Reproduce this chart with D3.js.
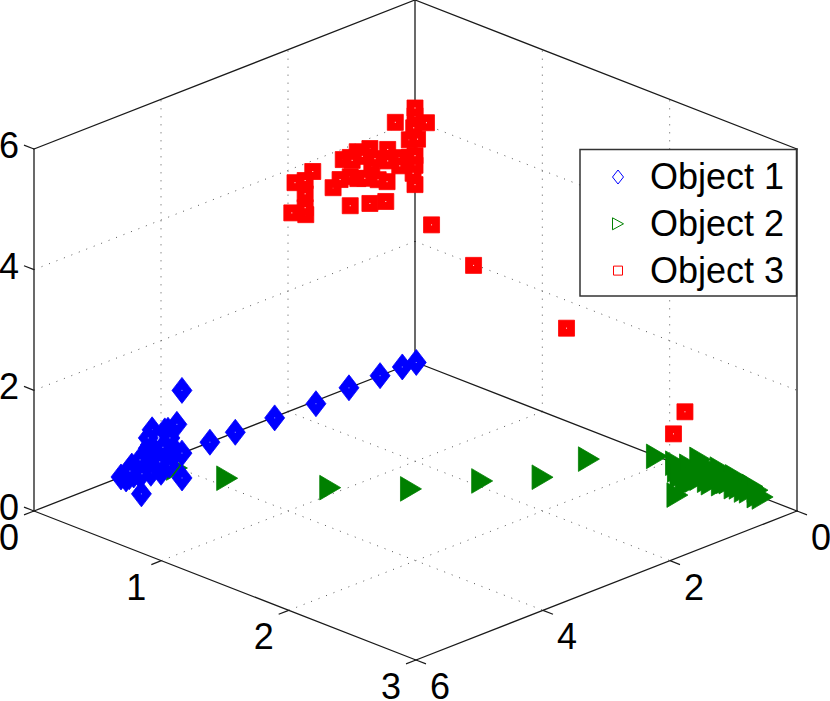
<!DOCTYPE html>
<html>
<head>
<meta charset="utf-8">
<title>Objects</title>
<script src="https://cdnjs.cloudflare.com/ajax/libs/d3/7.8.5/d3.min.js"></script>
<style>
  html, body { margin: 0; padding: 0; background: #fff; }
  svg { display: block; }
  text { font-family: "Liberation Sans", Arial, sans-serif; font-size: 36px; fill: #000; }
</style>
</head>
<body>
<div id="chart"></div>
<script>
// values
var xTicks = [0, 1, 2, 3];
var yTicks = [0, 2, 4, 6];
var zTicks = [0, 2, 4, 6];
var seriesNames = ["Object 1", "Object 2", "Object 3"];

var object1X = [0, 0.04, 0.03, 0.03, 0.03, 0, 0, 0, 0, 0, 0, 0, 0, 0, 0, 0, 0, 0, 0, 0, 0.11, 0.07, 0.08, 0.03, 0, 0.25, 0.25, 0, 0, 0, 0.01, 0.03, 0, 0, 0, 0.01, 0, 0, 0, 0, 0, 0, 0, 0, 0, 0.05];
var object1Y = [4.63, 4.63, 4.56, 4.49, 4.42, 4.33, 4.28, 4.22, 4.17, 4.13, 4.06, 4.00, 4.20, 4.14, 3.94, 3.89, 3.75, 3.86, 3.78, 3.67, 4.22, 4.01, 4.32, 4.09, 3.94, 4.17, 4.81, 3.67, 3.23, 2.83, 2.23, 1.62, 1.04, 0.55, 0.20, 0, 4.46, 4.33, 4.17, 4.49, 3.97, 3.86, 4.17, 4.20, 4.02, 4.40];
var object1Z = [0, 0, 0, 0, 0, 0, 0.01, 0.03, 0.08, 0.09, 0.13, 0.17, 0.30, 0.58, 0.48, 0.47, 0.51, 0.23, 0.05, 0, 0, 0, 0, 0, 0.03, 0, 0, 1.04, 0, 0, 0, 0, 0, 0, 0, 0, 0.11, 0.16, 0.18, 0.04, 0.22, 0.33, 0.34, 0.47, 0, 0];

var object2X = [0.13, 0.43, 0.93, 1.26, 1.46, 1.66, 1.66, 1.90, 2.05, 2.12, 2.19, 2.15, 2.16, 2.24, 2.20, 2.29, 2.34, 2.29, 2.37, 2.32, 2.40, 2.36, 2.45, 2.41, 2.50, 2.55, 2.52, 2.58, 2.63, 2.69, 2.65, 2.73, 2.69, 2.28, 2.38, 2.28, 2.29, 2.51, 2.59, 2.43, 2.36, 2.47];
var object2Y = [4.01, 3.82, 3.20, 2.59, 1.87, 1.32, 0.59, 0, 0, 0.11, 0.21, 0.05, 0, 0, 0.02, 0.10, 0.08, 0.26, 0.62, 0, 0, 0, 0, 0, 0, 0, 0, 0, 0, 0, 0, 0, 0, 0.31, 0.10, 0, 0.18, 0, 0, 0.04, 0, 0];
var object2Z = [0, 0, 0, 0, 0, 0, 0, 0, 0.01, 0, 0, 0, 0.05, 0.23, 0, 0, 0, 0, 0, 0.15, 0.20, 0.08, 0.04, 0.15, 0.13, 0.03, 0.17, 0.11, 0.03, 0, 0.12, 0.01, 0.09, 0, 0, 0.09, 0, 0, 0.01, 0, 0, 0.05];

var object3X = [0, 0, 0, 0, 0, 0, 0, 0, 0, 0, 0, 0, 0, 0, 0, 0, 0, 0, 0, 0, 0, 0, 0, 0, 0, 0, 0, 0, 0, 0.02, 0, 0, 0, 0, 0.09, 0, 0, 0, 0.13, 0.46, 1.19, 2.03, 2.12, 0, 0, 0];
var object3Y = [1.94, 1.72, 1.73, 1.73, 1.89, 1.73, 1.61, 1.29, 1.18, 1.02, 0.90, 0.79, 0.58, 0.44, 0.68, 1.13, 1.02, 0.91, 0.71, 0.83, 0.63, 0.43, 0.43, 0.25, 0.09, 0, 0.03, 0, 0.09, 0, 0.02, 0, 0, 0.31, 0, 1.02, 0.71, 0.46, 0, 0, 0, 0, 0, 0.99, 0.24, 0];
var object3Z = [3.27, 3.15, 3.27, 3.50, 3.75, 3.72, 3.82, 3.42, 3.51, 3.49, 3.41, 3.37, 3.26, 3.17, 3.53, 3.82, 3.81, 3.86, 3.83, 3.75, 3.63, 3.70, 3.51, 3.49, 3.43, 3.26, 3.14, 2.94, 3.72, 3.71, 3.89, 4.08, 4.21, 4.10, 4.04, 3.01, 2.92, 2.85, 2.38, 1.98, 1.54, 0.48, 0.92, 3.75, 3.35, 3.42];

var width = 830, height = 701;

var svg = d3.select("#chart").append("svg").attr("width", width).attr("height", height);

// the 3D view is a fixed projection: every axis adds to screen x and screen y
var xToLeft = d3.scaleLinear().domain([0, 3]).range([0, 382]);
var xToTop = d3.scaleLinear().domain([0, 3]).range([0, 149]);
var yToLeft = d3.scaleLinear().domain([0, 6]).range([0, -381]);
var yToTop = d3.scaleLinear().domain([0, 6]).range([0, 149]);
var zToTop = d3.scaleLinear().domain([0, 6]).range([0, -362]);
var backCorner = [415, 362];

function project(x, y, z) {
  return [backCorner[0] + xToLeft(x) + yToLeft(y), backCorner[1] + xToTop(x) + yToTop(y) + zToTop(z)];
}

function segment(g, a, b, cls) {
  g.append("line")
    .attr("class", cls)
    .attr("x1", a[0]).attr("y1", a[1])
    .attr("x2", b[0]).attr("y2", b[1]);
}

var xMax = xTicks[xTicks.length - 1], yMax = yTicks[yTicks.length - 1], zMax = zTicks[zTicks.length - 1];

// GRID, on the floor and the two back walls
var grid = svg.append("g").attr("stroke", "#555").attr("stroke-width", 1).attr("stroke-dasharray", "1 7");
xTicks.slice(1, -1).forEach(function(x) {
  segment(grid, project(x, 0, 0), project(x, yMax, 0), "grid");
  segment(grid, project(x, 0, 0), project(x, 0, zMax), "grid");
});
yTicks.slice(1, -1).forEach(function(y) {
  segment(grid, project(0, y, 0), project(xMax, y, 0), "grid");
  segment(grid, project(0, y, 0), project(0, y, zMax), "grid");
});
zTicks.slice(1, -1).forEach(function(z) {
  segment(grid, project(0, 0, z), project(0, yMax, z), "grid");
  segment(grid, project(0, 0, z), project(xMax, 0, z), "grid");
});

// BOX
var box = svg.append("g").attr("stroke", "#1a1a1a").attr("stroke-width", 1.3).attr("stroke-linecap", "square");
var edges = [
  [[0, yMax, 0], [xMax, yMax, 0]],
  [[xMax, yMax, 0], [xMax, 0, 0]],
  [[0, yMax, 0], [0, 0, 0]],
  [[0, 0, 0], [xMax, 0, 0]],
  [[0, yMax, 0], [0, yMax, zMax]],
  [[0, 0, 0], [0, 0, zMax]],
  [[xMax, 0, 0], [xMax, 0, zMax]],
  [[0, yMax, zMax], [0, 0, zMax]],
  [[0, 0, zMax], [xMax, 0, zMax]]
];
edges.forEach(function(e) {
  segment(box, project(e[0][0], e[0][1], e[0][2]), project(e[1][0], e[1][1], e[1][2]), "edge");
});

// TICKS AND LABELS
var ticks = svg.append("g").attr("stroke", "#1a1a1a").attr("stroke-width", 1.2);
var labels = svg.append("g").attr("text-anchor", "middle");

xTicks.forEach(function(x) {
  var p = project(x, yMax, 0);
  segment(ticks, p, [p[0] - 10, p[1] + 3.9], "tick");
  labels.append("text").attr("x", p[0] - 25).attr("y", p[1] + 39).text(x);
});
yTicks.forEach(function(y) {
  var p = project(xMax, y, 0);
  segment(ticks, p, [p[0] + 10, p[1] + 3.9], "tick");
  labels.append("text").attr("x", p[0] + 24).attr("y", p[1] + 39).text(y);
});
zTicks.forEach(function(z) {
  var p = project(0, yMax, z);
  segment(ticks, p, [p[0] - 10, p[1] - 3.9], "tick");
  labels.append("text").attr("x", p[0] - 25).attr("y", p[1] + 9).text(z);
});

// MARKERS
function diamond(w, h) {
  var path = d3.path();
  path.moveTo(0, -h); path.lineTo(w, 0); path.lineTo(0, h); path.lineTo(-w, 0); path.closePath();
  return path.toString();
}
function triangle(w, h) {
  var path = d3.path();
  path.moveTo(-w, -h); path.lineTo(w, 0); path.lineTo(-w, h); path.closePath();
  return path.toString();
}
function square(s) {
  var path = d3.path();
  path.rect(-s, -s, 2 * s, 2 * s);
  return path.toString();
}

function drawSeries(xs, ys, zs, shape, colour, dotOpacity) {
  var g = svg.append("g");
  xs.forEach(function(x, i) {
    var p = project(x, ys[i], zs[i]);
    var mark = g.append("g").attr("transform", "translate(" + p[0] + "," + p[1] + ")");
    mark.append("path").attr("d", shape).attr("fill", colour)
      .attr("stroke", colour).attr("stroke-width", 0.8);
    if (dotOpacity > 0) {
      mark.append("rect").attr("x", -0.5).attr("y", -0.5).attr("width", 1).attr("height", 1)
        .attr("fill", "#fff").attr("opacity", dotOpacity);
    }
  });
}

drawSeries(object2X, object2Y, object2Z, triangle(10.5, 12.3), "#008000", 0);
drawSeries(object3X, object3Y, object3Z, square(8), "#ff0000", 0.95);
drawSeries(object1X, object1Y, object1Z, diamond(10, 13), "#0000ff", 0.6);

// LEGEND
var legend = svg.append("g").attr("transform", "translate(580,149.5)");
legend.append("rect").attr("width", 216.5).attr("height", 146.5)
  .attr("fill", "#fff").attr("stroke", "#333").attr("stroke-width", 1.5);

var legendMarks = [
  { d: diamond(5.5, 7), colour: "#0000ff" },
  { d: triangle(5.5, 6), colour: "#008000" },
  { d: square(4.5), colour: "#ff0000" }
];
seriesNames.forEach(function(name, i) {
  var row = legend.append("g").attr("transform", "translate(0," + (27.5 + i * 46.8) + ")");
  row.append("path").attr("d", legendMarks[i].d).attr("transform", "translate(38,0)")
    .attr("fill", "none").attr("stroke", legendMarks[i].colour).attr("stroke-width", 1);
  row.append("text").attr("x", 70).attr("y", 12).text(name);
});
</script>
</body>
</html>
